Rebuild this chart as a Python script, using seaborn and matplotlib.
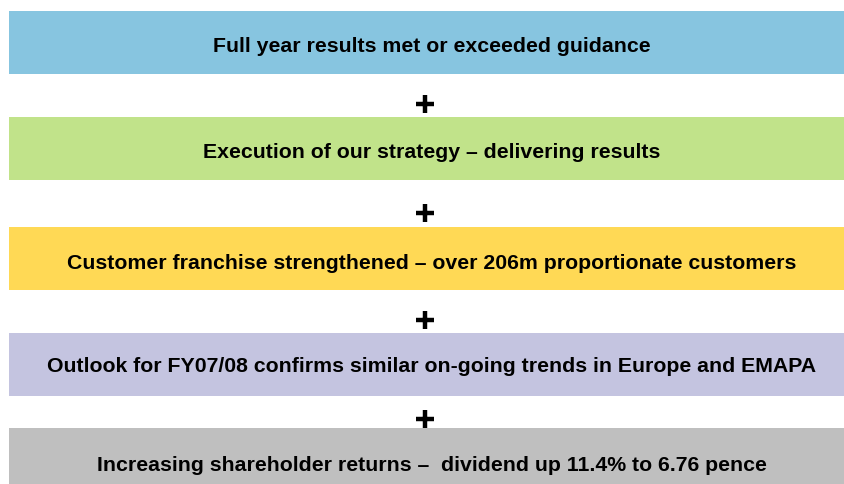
import matplotlib
matplotlib.use("Agg")
import matplotlib.pyplot as plt
import pandas as pd
import seaborn as sns

# box texts, top to bottom
box_text = [
    "Full year results met or exceeded guidance",
    "Execution of our strategy \u2013 delivering results",
    "Customer franchise strengthened \u2013 over 206m proportionate customers",
    "Outlook for FY07/08 confirms similar on-going trends in Europe and EMAPA",
    "Increasing shareholder returns \u2013  dividend up 11.4% to 6.76 pence",
]
box_fill = [1, 1, 1, 1, 1]

# layout (pixel units, y downwards)
box_colors = ["#87C5E0", "#C1E38A", "#FFD955", "#C4C4E0", "#BFBFBF"]
box_center = [43.5, 149.5, 259.5, 365.5, 460.5]
text_baseline = [51.5, 158.5, 269.5, 372.5, 471]
plus_y = [104.5, 213.5, 320.5, 419.5]
box_h = 63

sns.set_theme(style="white")
plt.rcParams["font.family"] = ["Liberation Sans", "DejaVu Sans"]

df = pd.DataFrame({"text": box_text, "fill": box_fill, "pos": box_center})

fig = plt.figure(figsize=(8.45, 4.85), dpi=100)
ax = fig.add_axes([0, 0, 1, 1])

min_gap = min(b - a for a, b in zip(box_center[:-1], box_center[1:]))
sns.barplot(
    data=df, x="fill", y="pos", hue="text", palette=box_colors,
    hue_order=box_text, orient="h", native_scale=True,
    width=box_h / min_gap, legend=False, saturation=1, linewidth=0, ax=ax,
)

# x: 0 -> pixel 9, 1 -> pixel 845
ax.set_xlim(-9 / 836, 1)
ax.set_ylim(485, 0)
ax.axis("off")

for txt, yb in zip(box_text, text_baseline):
    ax.text(0.5 + 5 / 836, yb, txt, ha="center", va="baseline",
            fontsize=15.35, fontweight="bold", color="black")

sns.scatterplot(x=[416 / 836] * len(plus_y), y=plus_y, marker="+", s=160,
                linewidth=3.2, color="black", ax=ax, legend=False)

fig.savefig("out.png", dpi=100)
